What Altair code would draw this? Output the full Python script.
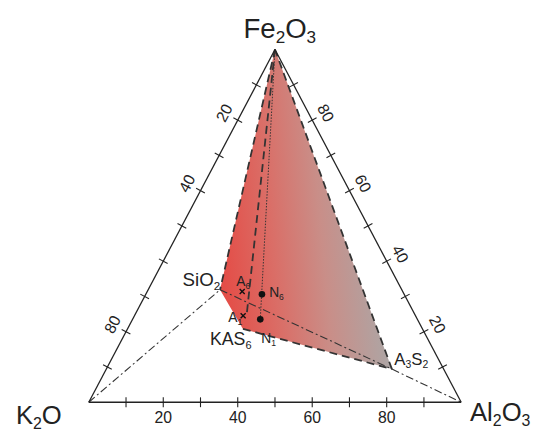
import altair as alt
import pandas as pd
import numpy as np

# ---------------- data (compositions in %: K2O, Al2O3, Fe2O3) ----------------
vertex_names = ["K2O", "Al2O3", "Fe2O3"]
vertex_k2o = [100, 0, 0]
vertex_al2o3 = [0, 100, 0]
vertex_fe2o3 = [0, 0, 100]

pt_names = ["SiO2", "A3S2", "KAS6", "A6", "A1", "N6", "N1", "A1tie"]
pt_k2o = [48.8, 13.9, 48.2, 43.1, 46.3, 38.2, 42.2, 45.5]
pt_al2o3 = [19.3, 76.7, 31.0, 25.5, 29.2, 31.2, 34.3, 30.2]
pt_fe2o3 = [31.9, 9.4, 20.8, 31.4, 24.5, 30.6, 23.5, 24.3]

tick_values = [10, 20, 30, 40, 50, 60, 70, 80, 90]
bottom_labels = [20, 40, 60, 80]
right_labels = [20, 40, 60, 80]
left_labels = [20, 40, 80]

# ---------------- layout / style ----------------
W, H = 378, 358
PXX, PXY = W / 100.0, H / 100.0
FONT = "Liberation Sans"
INK = "#222222"
SUB_RATIO, SUB_DROP = 0.62, 0.2
ADV = {"K": 0.667, "O": 0.778, "A": 0.667, "l": 0.222, "F": 0.611, "e": 0.556,
       "S": 0.667, "i": 0.222, "N": 0.722}


def cart(k, a, f):
    s = k + a + f
    return 100.0 * (a + f / 2.0) / s, 100.0 * f / s


P = {}
for n, k, a, f in zip(vertex_names, vertex_k2o, vertex_al2o3, vertex_fe2o3):
    P[n] = cart(k, a, f)
for n, k, a, f in zip(pt_names, pt_k2o, pt_al2o3, pt_fe2o3):
    P[n] = cart(k, a, f)


def seg_df(pairs):
    return pd.DataFrame([{"x": P[a][0], "y": P[a][1], "x2": P[b][0], "y2": P[b][1]} for a, b in pairs])


def shift(p, dxp, dyp):
    # shift a data point by pixel offsets (dy positive = down on screen)
    return p[0] + dxp / PXX, p[1] - dyp / PXY


xs = alt.Scale(domain=[0, 100], nice=False, zero=False)
ys = alt.Scale(domain=[0, 100], nice=False, zero=False)
X = lambda f: alt.X(f, type="quantitative", scale=xs, axis=None)
Y = lambda f: alt.Y(f, type="quantitative", scale=ys, axis=None)

# ---------------- shaded polygon (Fe2O3 - SiO2 - KAS6 - A3S2) ----------------
upper = ["SiO2", "Fe2O3", "A3S2"]
lower = ["SiO2", "KAS6", "A3S2"]
bx = sorted(set(P[n][0] for n in upper + lower))
top = np.interp(bx, [P[n][0] for n in upper], [P[n][1] for n in upper])
bot = np.interp(bx, [P[n][0] for n in lower], [P[n][1] for n in lower])
area_df = pd.DataFrame({"x": bx, "yt": top, "yb": bot})
grad = alt.Gradient(
    gradient="linear",
    stops=[alt.GradientStop(color="#e44d47", offset=0),
           alt.GradientStop(color="#da6e67", offset=0.3),
           alt.GradientStop(color="#c98e88", offset=0.58),
           alt.GradientStop(color="#a9a9a9", offset=0.95)],
    x1=0, y1=0.62, x2=1, y2=0.45,
)
area = alt.Chart(area_df).mark_area(color=grad, line=False, opacity=1).encode(
    x=X("x"), y=Y("yt"), y2="yb"
)

# ---------------- triangle sides and ticks ----------------
sides = alt.Chart(seg_df([("K2O", "Al2O3"), ("Al2O3", "Fe2O3"), ("Fe2O3", "K2O")])).mark_rule(
    color=INK, strokeWidth=1.3).encode(x=X("x"), y=Y("y"), x2="x2", y2="y2")

nb = (0.0, 1.0)
L = np.hypot(W / 2, H)
nl = (-H / L, -(W / 2) / L)
nr = (H / L, -(W / 2) / L)
ang_left = float(np.degrees(np.arctan2(-H, W / 2)) + 360)
ang_right = float(np.degrees(np.arctan2(H, W / 2)))


def side_point(side, v):
    if side == "b":
        return cart(100 - v, v, 0)
    if side == "r":
        return cart(0, 100 - v, v)
    return cart(v, 0, 100 - v)


normals = {"b": nb, "l": nl, "r": nr}
tick_rows = []
TL = 5.0
for s in ["b", "l", "r"]:
    n = normals[s]
    for v in tick_values:
        p = side_point(s, v)
        a = shift(p, n[0] * TL, n[1] * TL)
        b = shift(p, -n[0] * TL, -n[1] * TL)
        tick_rows.append({"x": a[0], "y": a[1], "x2": b[0], "y2": b[1]})
ticks = alt.Chart(pd.DataFrame(tick_rows)).mark_rule(color=INK, strokeWidth=1.1).encode(
    x=X("x"), y=Y("y"), x2="x2", y2="y2")

# ---------------- construction lines ----------------
dashdot = alt.Chart(seg_df([("K2O", "SiO2"), ("SiO2", "A3S2"), ("A3S2", "Al2O3")])).mark_rule(
    color="#333333", strokeWidth=1.1, strokeDash=[8, 3, 2, 3]).encode(
    x=X("x"), y=Y("y"), x2="x2", y2="y2")
dashed = alt.Chart(seg_df([("Fe2O3", "SiO2"), ("KAS6", "A3S2"), ("A3S2", "Fe2O3"), ("Fe2O3", "A1tie")])).mark_rule(
    color="#333333", strokeWidth=1.8, strokeDash=[8, 5]).encode(
    x=X("x"), y=Y("y"), x2="x2", y2="y2")
dotted = alt.Chart(seg_df([("Fe2O3", "N1")])).mark_rule(
    color="#333333", strokeWidth=1.0, strokeDash=[1.5, 1.5]).encode(
    x=X("x"), y=Y("y"), x2="x2", y2="y2")

dots = alt.Chart(pd.DataFrame([{"x": P[n][0], "y": P[n][1]} for n in ["N6", "N1"]])).mark_circle(
    color="#111111", size=45, opacity=1).encode(x=X("x"), y=Y("y"))
crosses = alt.Chart(pd.DataFrame([{"x": P[n][0], "y": P[n][1]} for n in ["A6", "A1"]])).mark_point(
    shape="M-1,-1L1,1M1,-1L-1,1", size=26, filled=False, color="#111111", strokeWidth=1.4, opacity=1).encode(
    x=X("x"), y=Y("y"))

# ---------------- chemical labels (digits as subscripts) ----------------
# (left-edge dx, baseline dy) in px from the labelled point, font size
label_style = {"Fe2O3": (-32, -12, 28), "K2O": (-74, 22, 26), "Al2O3": (9, 19, 26),
               "SiO2": (-38, -4, 19), "KAS6": (-33.5, 16.5, 18), "A3S2": (2.5, -4.5, 17),
               "A6": (-6, -5.7, 14), "A1": (-15, 6.2, 14), "N6": (7.3, 3, 14),
               "N1": (1, 24.3, 14)}
lab_rows = []
for name, (dx, dy, sz) in label_style.items():
    cx = dx
    for ch in name:
        sub = ch.isdigit()
        fs = sz * SUB_RATIO if sub else sz
        q = shift(P[name], cx, dy + (sz * SUB_DROP if sub else 0))
        lab_rows.append({"x": q[0], "y": q[1], "t": ch, "s": fs})
        cx += fs * (0.556 if sub else ADV.get(ch, 0.6))
chem = alt.Chart(pd.DataFrame(lab_rows)).mark_text(
    font=FONT, color=INK, align="left", baseline="alphabetic").encode(
    x=X("x"), y=Y("y"), text="t:N", size=alt.Size("s:Q", scale=None, legend=None))

# ---------------- tick labels ----------------
rows = []
for s, vals, off, ang in [("b", bottom_labels, 16.5, 0), ("l", left_labels, 15, ang_left),
                          ("r", right_labels, 15, ang_right)]:
    n = normals[s]
    for v in vals:
        q = shift(side_point(s, v), n[0] * off, n[1] * off)
        rows.append({"x": q[0], "y": q[1], "t": str(v), "a": ang})
tlabels = alt.Chart(pd.DataFrame(rows)).mark_text(
    font=FONT, color=INK, align="center", baseline="middle", fontSize=16).encode(
    x=X("x"), y=Y("y"), text="t:N", angle=alt.Angle("a:Q", scale=None))

chart = alt.layer(area, dashdot, dashed, dotted, sides, ticks, dots, crosses, chem, tlabels).properties(
    width=W, height=H,
    padding={"left": 82, "top": 39, "right": 79, "bottom": 26},
    autosize="none",
).configure_view(strokeWidth=0)

chart.save("out.html", embed_options={"renderer": "svg", "actions": False})
